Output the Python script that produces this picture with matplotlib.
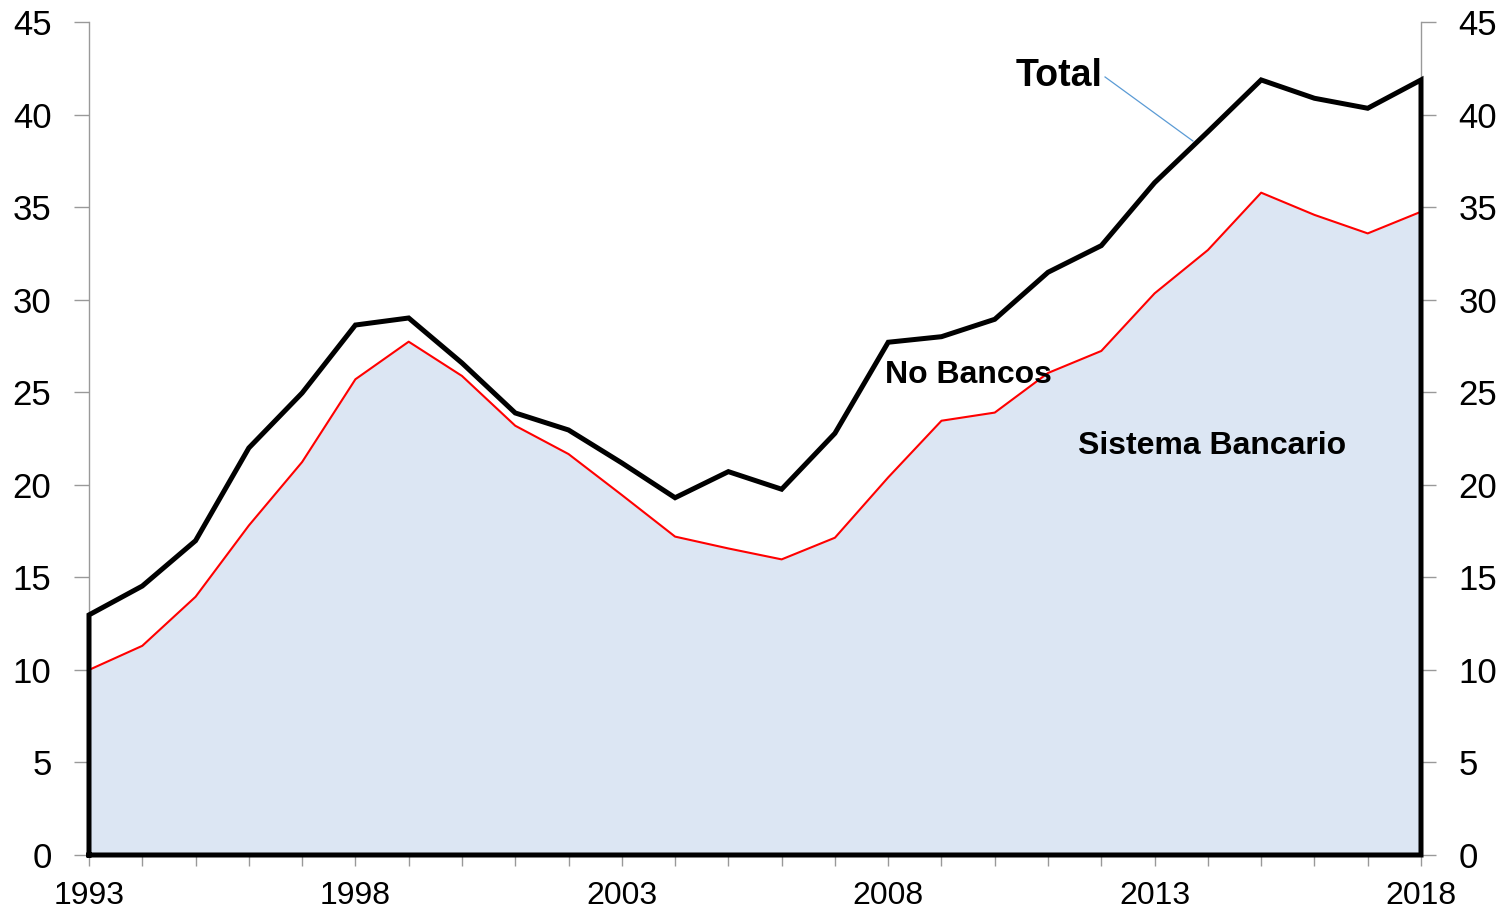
import matplotlib
matplotlib.use("Agg")
import matplotlib.pyplot as plt
import numpy as np

plt.rcParams['font.family'] = ['Liberation Sans', 'DejaVu Sans']

years = list(range(1993, 2019))
total = [12.97, 14.53, 16.98, 21.99, 24.96, 28.63, 29.01, 26.58, 23.88, 22.96,
         21.18, 19.30, 20.71, 19.76, 22.78, 27.70, 28.00, 28.94, 31.48, 32.92,
         36.32, 39.07, 41.87, 40.88, 40.34, 41.87]
bancario = [10.00, 11.30, 13.95, 17.80, 21.23, 25.70, 27.73, 25.88, 23.19, 21.66,
            19.45, 17.20, 16.56, 15.97, 17.14, 20.40, 23.46, 23.90, 26.04, 27.23,
            30.34, 32.68, 35.78, 34.58, 33.58, 34.75]
x_ticks = [1993, 1998, 2003, 2008, 2013, 2018]
y_ticks = list(range(0, 50, 5))

fig = plt.figure(figsize=(15.03, 9.10), dpi=100)
ax = fig.add_axes([89 / 1503, 55 / 910, (1421 - 89) / 1503, (855 - 22) / 910])

x = np.array(years)
ax.fill_between(x, 0, total, facecolor='white', edgecolor='none', zorder=1)
ax.fill_between(x, 0, bancario, facecolor='#DCE6F3', edgecolor='none', zorder=2)
ax.plot(x, bancario, color='#FF0000', lw=1.5, zorder=3)

# outline of the total area: sides, top and base
ox = np.concatenate([[x[0]], x, [x[-1]], [x[0]]])
oy = np.concatenate([[0], total, [0], [0]])
ax.plot(ox, oy, color='black', lw=3.6, solid_joinstyle='miter', zorder=4, clip_on=False)

ax.set_xlim(1993, 2018)
ax.set_ylim(0, 45)

ax.spines['top'].set_visible(False)
for s in ['left', 'right', 'bottom']:
    ax.spines[s].set_color('#999999')
    ax.spines[s].set_linewidth(1.0)

ax.set_xticks(x_ticks)
ax.set_xticks(years, minor=True)
ax.set_yticks(y_ticks)
ax.tick_params(axis='x', which='both', direction='out', length=8, width=1,
               color='#999999', labelsize=23, pad=11)
ax.tick_params(axis='y', which='both', direction='out', length=11, width=1,
               color='#999999', labelsize=25, pad=16,
               left=True, right=True, labelleft=True, labelright=True)

ax.text(2012.03, 42.3, 'Total', fontsize=27, fontweight='bold',
        ha='right', va='center_baseline', zorder=6)
ax.plot([2012.07, 2013.72], [42.03, 38.57], color='#5B9BD5', lw=0.9, zorder=6)
ax.text(2009.5, 26.1, 'No Bancos', fontsize=23, fontweight='bold',
        ha='center', va='center_baseline', zorder=6)
ax.text(2014.08, 22.26, 'Sistema Bancario', fontsize=23, fontweight='bold',
        ha='center', va='center_baseline', zorder=6)

fig.savefig('out.png', dpi=100)
